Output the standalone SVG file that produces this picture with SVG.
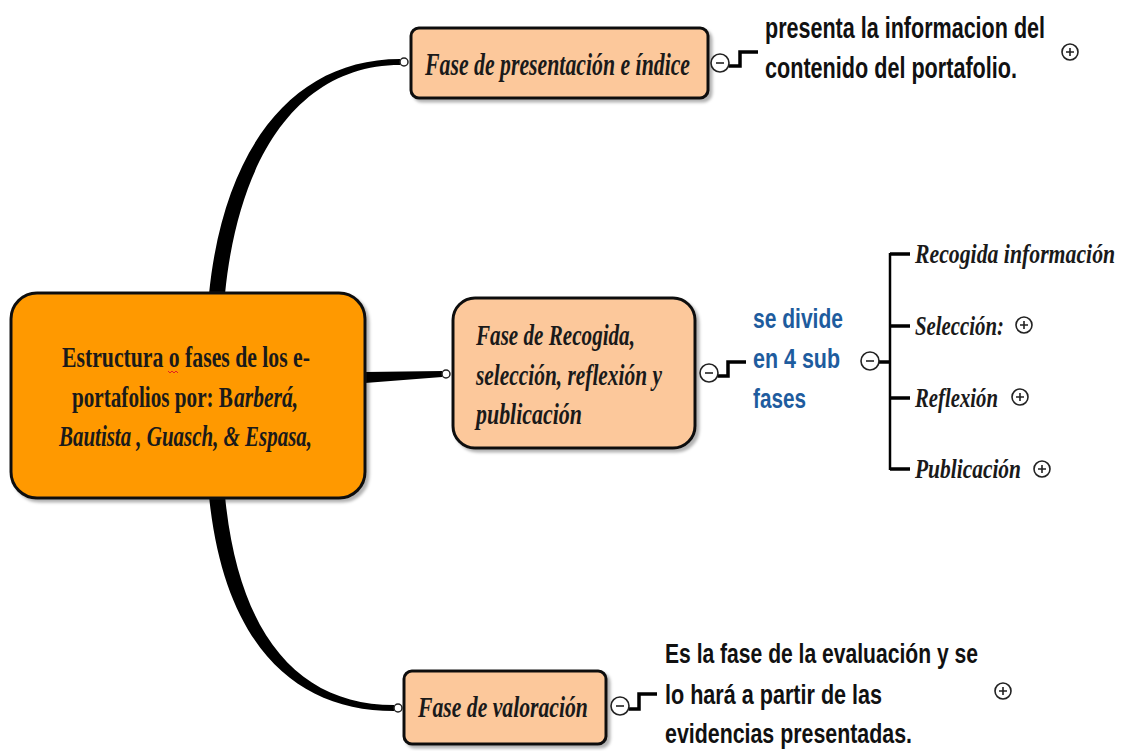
<svg xmlns="http://www.w3.org/2000/svg" width="1124" height="751" viewBox="0 0 1124 751">
<style>
.node{stroke:#111;stroke-width:3}
.root{fill:#FF9900}
.sub{fill:#FCC89B}
.ser{font-family:"Liberation Serif","DejaVu Serif",serif;font-weight:bold;fill:#1a1a1a}
.it{font-style:italic}
.sans{font-family:"Liberation Sans","DejaVu Sans",sans-serif;font-weight:bold;fill:#111}
.blue{fill:#1E5C9E}
.conn{fill:none;stroke:#000}
.thick{fill:#000;stroke:none}
.tog{fill:#fff;stroke:#222;stroke-width:1.6}
.sign{stroke:#222;stroke-width:1.6}
</style>
<defs>
<filter id="sh" x="-5%" y="-5%" width="115%" height="120%"><feDropShadow dx="3" dy="3" stdDeviation="1.5" flood-color="#000" flood-opacity="0.3"/></filter>
</defs>
<g id="connectors">
<path class="thick" d="M209 294 C224 145 295 59 400 59 L400 65 C302 65 239 152 225 294 Z"/>
<path class="thick" d="M209 496 C224 645 295 711 394 711 L394 705 C302 705 239 640 225 496 Z"/>
<path class="thick" d="M365 372 L442 371 L442 377 L365 383 Z"/>
<path class="conn" d="M729 66 H740 V52 H758" stroke-width="3.5"/>
<path class="conn" d="M718 376 H728 V362 H746" stroke-width="3.5"/>
<path class="conn" d="M629 709 H639 V694 H657" stroke-width="3.5"/>
<path class="conn" d="M879 362 H890" stroke-width="3.5"/>
<path class="conn" d="M890 253 V470" stroke="#333" stroke-width="2.5"/>
<path class="conn" d="M890 254 H910 M890 326 H910 M890 398 H910 M890 469 H910" stroke-width="3.5"/>
<circle cx="404" cy="62" r="4" fill="#fff" stroke="#222" stroke-width="1.5"/>
<circle cx="446" cy="374" r="4" fill="#fff" stroke="#222" stroke-width="1.5"/>
<circle cx="398" cy="708" r="4" fill="#fff" stroke="#222" stroke-width="1.5"/>
</g>
<g id="root">
<rect class="node root" x="11" y="293" width="354" height="205" rx="26" filter="url(#sh)"/>
<text class="ser" font-size="30" transform="translate(62 367) scale(0.724 1)" textLength="342.5" lengthAdjust="spacingAndGlyphs">Estructura o fases de los e-</text>
<path d="M168 371 l2 2 l2 -2 l2 2 l2 -2 l2 2" fill="none" stroke="#e02020" stroke-width="1"/>
<text class="ser" font-size="30" transform="translate(72 407) scale(0.703 1)" textLength="229" lengthAdjust="spacingAndGlyphs">portafolios por: B</text>
<text class="ser it" font-size="30" transform="translate(234 407) scale(0.718 1)" textLength="89.2" lengthAdjust="spacingAndGlyphs">arberá,</text>
<text class="ser it" font-size="30" transform="translate(59 446) scale(0.698 1)" textLength="362.5" lengthAdjust="spacingAndGlyphs">Bautista , Guasch, &amp; Espasa,</text>
</g>
<g id="n-presentacion">
<rect class="node sub" x="411" y="28" width="297" height="70" rx="8" filter="url(#sh)"/>
<text class="ser it" font-size="31" transform="translate(425 75) scale(0.703 1)" textLength="377" lengthAdjust="spacingAndGlyphs">Fase de presentación e índice</text>
<circle class="tog" cx="720" cy="63" r="9"/><line class="sign" x1="716" y1="63" x2="724" y2="63"/>
</g>
<g id="d-presentacion">
<text class="sans" font-size="29" transform="translate(765 38) scale(0.7425 1)" textLength="377.1" lengthAdjust="spacingAndGlyphs">presenta la informacion del</text>
<text class="sans" font-size="29" transform="translate(765 78) scale(0.7447 1)" textLength="338.4" lengthAdjust="spacingAndGlyphs">contenido del portafolio.</text>
<circle class="tog" cx="1070" cy="52" r="8"/><path class="sign" d="M1066 52 H1074 M1070 48 V56"/>
</g>
<g id="n-recogida">
<rect class="node sub" x="453" y="298" width="242" height="150" rx="22" filter="url(#sh)"/>
<text class="ser it" font-size="30" transform="translate(476 345) scale(0.704 1)" textLength="225.8" lengthAdjust="spacingAndGlyphs">Fase de Recogida,</text>
<text class="ser it" font-size="30" transform="translate(476 385) scale(0.713 1)" textLength="260.8" lengthAdjust="spacingAndGlyphs">selección, reflexión y</text>
<text class="ser it" font-size="30" transform="translate(476 424) scale(0.731 1)" textLength="145" lengthAdjust="spacingAndGlyphs">publicación</text>
<circle class="tog" cx="709" cy="373" r="9"/><line class="sign" x1="705" y1="373" x2="713" y2="373"/>
</g>
<g id="d-recogida">
<text class="sans blue" font-size="28" transform="translate(753 328) scale(0.751 1)" textLength="119.8" lengthAdjust="spacingAndGlyphs">se divide</text>
<text class="sans blue" font-size="28" transform="translate(753 368) scale(0.766 1)" textLength="113.6" lengthAdjust="spacingAndGlyphs">en 4 sub</text>
<text class="sans blue" font-size="28" transform="translate(753 408) scale(0.740 1)" textLength="71.6" lengthAdjust="spacingAndGlyphs">fases</text>
<circle class="tog" cx="870" cy="361" r="9"/><line class="sign" x1="866" y1="361" x2="874" y2="361"/>
</g>
<g id="s-recogida">
<text class="ser it" font-size="27" transform="translate(915 263) scale(0.806 1)" textLength="248.3" lengthAdjust="spacingAndGlyphs">Recogida información</text>
</g>
<g id="s-seleccion">
<text class="ser it" font-size="27" transform="translate(915 335) scale(0.771 1)" textLength="115.5" lengthAdjust="spacingAndGlyphs">Selección:</text>
<circle class="tog" cx="1024" cy="325" r="8"/><path class="sign" d="M1020 325 H1028 M1024 321 V329"/>
</g>
<g id="s-reflexion">
<text class="ser it" font-size="27" transform="translate(915 407) scale(0.769 1)" textLength="108" lengthAdjust="spacingAndGlyphs">Reflexión</text>
<circle class="tog" cx="1020" cy="397" r="8"/><path class="sign" d="M1016 397 H1024 M1020 393 V401"/>
</g>
<g id="s-publicacion">
<text class="ser it" font-size="27" transform="translate(915 478) scale(0.794 1)" textLength="133.5" lengthAdjust="spacingAndGlyphs">Publicación</text>
<circle class="tog" cx="1042" cy="469" r="8"/><path class="sign" d="M1038 469 H1046 M1042 465 V473"/>
</g>
<g id="n-valoracion">
<rect class="node sub" x="404" y="671" width="202" height="73" rx="8" filter="url(#sh)"/>
<text class="ser it" font-size="29" transform="translate(418 717) scale(0.748 1)" textLength="227.2" lengthAdjust="spacingAndGlyphs">Fase de valoración</text>
<circle class="tog" cx="620" cy="706" r="9"/><line class="sign" x1="616" y1="706" x2="624" y2="706"/>
</g>
<g id="d-valoracion">
<text class="sans" font-size="28" transform="translate(665 663) scale(0.753 1)" textLength="415.6" lengthAdjust="spacingAndGlyphs">Es la fase de la evaluación y se</text>
<text class="sans" font-size="28" transform="translate(665 704) scale(0.771 1)" textLength="281.6" lengthAdjust="spacingAndGlyphs">lo hará a partir de las</text>
<text class="sans" font-size="28" transform="translate(665 743) scale(0.763 1)" textLength="323.7" lengthAdjust="spacingAndGlyphs">evidencias presentadas.</text>
<circle class="tog" cx="1003" cy="691" r="8"/><path class="sign" d="M999 691 H1007 M1003 687 V695"/>
</g>
</svg>
